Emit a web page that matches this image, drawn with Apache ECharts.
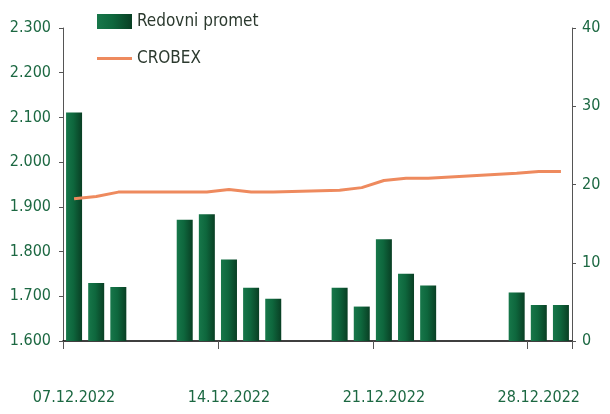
<!DOCTYPE html>
<html>
<head>
<meta charset="utf-8">
<script src="https://cdn.jsdelivr.net/npm/echarts@6/dist/echarts.min.js"></script>
<style>
  html, body { margin: 0; padding: 0; background: #fff; }
  #chart { width: 610px; height: 414px; }
</style>
</head>
<body>
<div id="chart"></div>
<script>
// calendar days 07.12.2022 - 29.12.2022 (weekends / holidays empty)
const days = [
  '07.12.2022', '08.12.2022', '09.12.2022', '10.12.2022', '11.12.2022',
  '12.12.2022', '13.12.2022', '14.12.2022', '15.12.2022', '16.12.2022',
  '17.12.2022', '18.12.2022', '19.12.2022', '20.12.2022', '21.12.2022',
  '22.12.2022', '23.12.2022', '24.12.2022', '25.12.2022', '26.12.2022',
  '27.12.2022', '28.12.2022', '29.12.2022'
];

// Redovni promet (right axis)
const promet = [
  29.2, 7.4, 6.9, null, null,
  15.5, 16.2, 10.4, 6.8, 5.4,
  null, null, 6.8, 4.4, 13.0,
  8.6, 7.1, null, null, null,
  6.2, 4.6, 4.6
];

// CROBEX (left axis)
const crobex = [
  1918, 1923, 1933, null, null,
  1933, 1933, 1939, 1933, 1933,
  null, null, 1937, 1943, 1959,
  1964, 1964, null, null, null,
  1975, 1979, 1979
];

const FONT = '"DejaVu Sans Condensed", "Liberation Sans Narrow", sans-serif';
const GREEN_TXT = '#1c6842';

const chart = echarts.init(document.getElementById('chart'), null, { renderer: 'canvas' });

chart.setOption({
  animation: false,
  grid: { left: 63, right: 38, top: 28, bottom: 73 },
  legend: {
    orient: 'vertical',
    left: 92,
    top: 8,
    itemWidth: 35,
    itemHeight: 15,
    itemGap: 20,
    textStyle: { fontFamily: FONT, fontSize: 17, color: '#2c3a2f' },
    data: [
      { name: 'Redovni promet', icon: 'rect' },
      { name: 'CROBEX', icon: 'path://M0,0 M35,15 M0,6 L35,6 L35,9 L0,9 Z' }
    ]
  },
  xAxis: {
    type: 'category',
    data: days,
    boundaryGap: true,
    axisLine: { lineStyle: { color: '#000', width: 1.5 } },
    axisTick: { show: true, interval: 6, length: 8, lineStyle: { color: '#555' } },
    axisLabel: {
      interval: 6,
      margin: 49,
      fontFamily: FONT,
      fontSize: 16,
      color: GREEN_TXT
    }
  },
  yAxis: [
    {
      type: 'value',
      min: 1600,
      max: 2300,
      interval: 100,
      splitLine: { show: false },
      axisLine: { show: true, lineStyle: { color: '#555' } },
      axisTick: { show: true, length: 4, lineStyle: { color: '#555' } },
      axisLabel: {
        margin: 12,
        fontFamily: FONT,
        fontSize: 16,
        color: GREEN_TXT,
        formatter: (v) => {
          const s = String(v);
          return s.slice(0, 1) + '.' + s.slice(1);
        }
      }
    },
    {
      type: 'value',
      min: 0,
      max: 40,
      interval: 10,
      splitLine: { show: false },
      axisLine: { show: true, lineStyle: { color: '#555' } },
      axisTick: { show: true, length: 4, lineStyle: { color: '#555' } },
      axisLabel: {
        margin: 10,
        fontFamily: FONT,
        fontSize: 16,
        color: GREEN_TXT
      }
    }
  ],
  series: [
    {
      name: 'Redovni promet',
      type: 'bar',
      yAxisIndex: 1,
      data: promet,
      barWidth: 16,
      itemStyle: {
        color: new echarts.graphic.LinearGradient(0, 0, 1, 0, [
          { offset: 0, color: '#17774a' },
          { offset: 0.45, color: '#0e673d' },
          { offset: 1, color: '#093f24' }
        ])
      }
    },
    {
      name: 'CROBEX',
      type: 'line',
      yAxisIndex: 0,
      data: crobex,
      connectNulls: true,
      showSymbol: false,
      symbol: 'none',
      lineStyle: { color: '#ee8a5e', width: 3 },
      itemStyle: { color: '#ee8a5e' }
    }
  ]
});
</script>
</body>
</html>
